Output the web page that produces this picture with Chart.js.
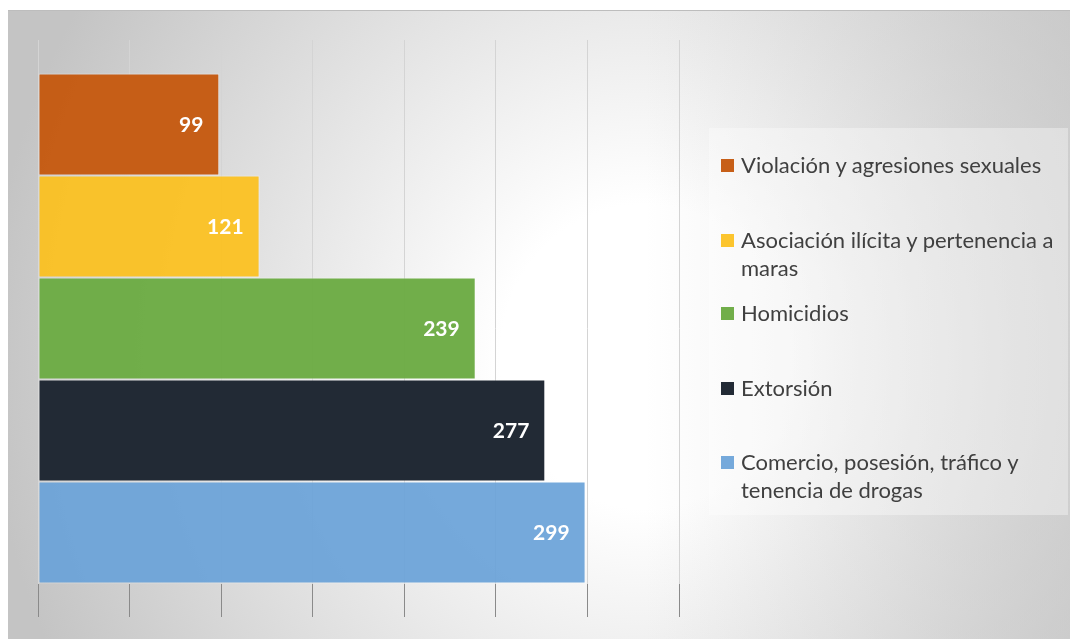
<!DOCTYPE html>
<html lang="es">
<head>
    <meta charset="UTF-8">
    <title>Delitos por tipo</title>
    <script src="https://cdn.jsdelivr.net/npm/chart.js@4"></script>
    <style>
        html, body {
            margin: 0;
            padding: 0;
            background: #fff;
        }
        body {
            width: 1070px;
            height: 639px;
            position: relative;
            overflow: hidden;
            font-family: Lato, 'Noto Sans', sans-serif;
        }
        .frame {
            position: absolute;
            left: 8px;
            top: 10px;
            width: 1062px;
            height: 629px;
            box-sizing: border-box;
            border-top: 1px solid #bdbdbd;
            background:
                linear-gradient(to right, rgba(196,196,196,0) 60%, rgba(196,196,196,0.55) 100%),
                radial-gradient(ellipse 62% 110% at 60% 55%, #ffffff 22%, #c4c4c4 100%);
        }
        #graphCanvas {
            position: absolute;
            left: 0;
            top: 0;
        }
        #legend {
            position: absolute;
            left: 709px;
            top: 128px;
            width: 359px;
            height: 387px;
            box-sizing: border-box;
            padding: 23px 0 0 12px;
            background: rgba(255,255,255,0.35);
        }
        #legend .item {
            display: flex;
            align-items: flex-start;
            font-size: 22px;
            line-height: 28px;
            color: #404040;
            white-space: nowrap;
        }
        #legend .box {
            flex: none;
            width: 13px;
            height: 13px;
            margin: 8px 7px 0 0;
        }
        #legend .item:nth-child(2) { margin-top: 47px; }
        #legend .item:nth-child(3) { margin-top: 17px; }
        #legend .item:nth-child(4) { margin-top: 47px; }
        #legend .item:nth-child(5) { margin-top: 46px; }
    </style>
</head>
<body>
    <div class="frame"></div>
    <canvas id="graphCanvas" width="1070" height="639"></canvas>
    <div id="legend"></div>

    <script>
        // Data
        const categories = [
            'Violación y agresiones sexuales',
            ['Asociación ilícita y pertenencia a', 'maras'],
            'Homicidios',
            'Extorsión',
            ['Comercio, posesión, tráfico y', 'tenencia de drogas']
        ];
        const values = [99, 121, 239, 277, 299];
        const barColors = [
            'rgba(197, 90, 17, 0.97)',
            'rgba(252, 193, 30, 0.93)',
            'rgba(110, 172, 70, 0.98)',
            'rgba(34, 42, 53, 1)',
            'rgba(106, 163, 216, 0.93)'
        ];
        const xMin = 0;
        const xMax = 350;
        const xStep = 50;

        const barBand = 0.884;          // share of the plot height taken by the bars
        const gridLight = '#d4d4d4';
        const gridDark = '#8a8a8a';

        // grid lines: light over the bars, darker below them
        function gridColor(context) {
            const chart = context.chart;
            const area = chart.chartArea;
            if (!area) return gridLight;
            const f = (1 + barBand) / 2;
            const g = chart.ctx.createLinearGradient(0, area.top, 0, area.bottom);
            g.addColorStop(0, gridLight);
            g.addColorStop(f, gridLight);
            g.addColorStop(f, gridDark);
            g.addColorStop(1, gridDark);
            return g;
        }

        // value written inside the end of each bar
        const barValueLabels = {
            id: 'barValueLabels',
            afterDatasetsDraw(chart) {
                const ctx = chart.ctx;
                ctx.save();
                ctx.font = 'bold 21px Lato, sans-serif';
                ctx.fillStyle = '#ffffff';
                ctx.textAlign = 'right';
                ctx.textBaseline = 'middle';
                chart.data.datasets.forEach((ds, i) => {
                    chart.getDatasetMeta(i).data.forEach((bar, j) => {
                        ctx.fillText(String(ds.data[j]), bar.x - 16, bar.y + 1);
                    });
                });
                ctx.restore();
            }
        };

        // legend built as html next to the plot
        const htmlLegend = {
            id: 'htmlLegend',
            afterUpdate(chart) {
                const box = document.getElementById('legend');
                box.textContent = '';
                chart.data.datasets.forEach(ds => {
                    const item = document.createElement('div');
                    item.className = 'item';
                    const sw = document.createElement('span');
                    sw.className = 'box';
                    sw.style.background = ds.backgroundColor;
                    const txt = document.createElement('span');
                    const lines = Array.isArray(ds.label) ? ds.label : [ds.label];
                    lines.forEach((line, k) => {
                        if (k > 0) txt.appendChild(document.createElement('br'));
                        txt.appendChild(document.createTextNode(line));
                    });
                    item.appendChild(sw);
                    item.appendChild(txt);
                    box.appendChild(item);
                });
            }
        };

        const ctx = document.getElementById('graphCanvas').getContext('2d');
        const chart = new Chart(ctx, {
            type: 'bar',
            data: {
                labels: [''],
                datasets: categories.map((label, i) => ({
                    label: label,
                    data: [values[i]],
                    backgroundColor: barColors[i],
                    borderColor: 'rgba(255, 255, 255, 0.45)',
                    borderWidth: 1,
                    borderSkipped: false
                }))
            },
            options: {
                indexAxis: 'y',
                responsive: false,
                animation: false,
                datasets: {
                    bar: {
                        categoryPercentage: barBand,
                        barPercentage: 1
                    }
                },
                layout: {
                    padding: { left: 38, top: 40, right: 391, bottom: 22 }
                },
                plugins: {
                    legend: { display: false },
                    tooltip: { enabled: false }
                },
                scales: {
                    x: {
                        type: 'linear',
                        min: xMin,
                        max: xMax,
                        ticks: { stepSize: xStep, display: false },
                        grid: { color: gridColor, drawTicks: false, lineWidth: 1 },
                        border: { display: false }
                    },
                    y: {
                        display: false
                    }
                }
            },
            plugins: [barValueLabels, htmlLegend]
        });
    </script>
</body>
</html>
